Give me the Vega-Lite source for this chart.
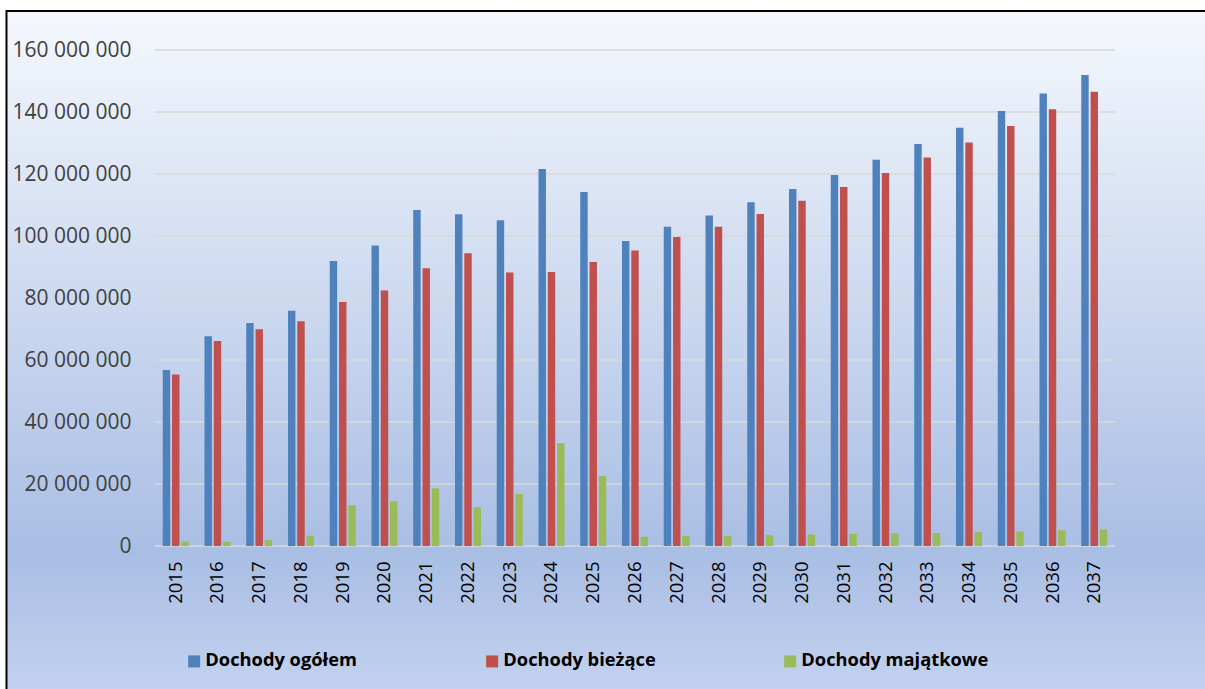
{
  "$schema": "https://vega.github.io/schema/vega-lite/v6.json",
  "autosize": "none",
  "width": 960,
  "height": 496,
  "padding": {"left": 155, "top": 50, "right": 90, "bottom": 143},
  "background": "#ffffff",
  "config": {
    "view": {"stroke": null},
    "font": "Open Sans",
    "axis": {"zindex": 2},
    "locale": {"number": {"decimal": ",", "thousands": " ", "grouping": [3], "currency": ["", " zł"]}}
  },
  "datasets": {
    "grid": [
      {"v": 0}, {"v": 20000000}, {"v": 40000000}, {"v": 60000000}, {"v": 80000000},
      {"v": 100000000}, {"v": 120000000}, {"v": 140000000}, {"v": 160000000}
    ],
    "dochody": [
      {"rok": "2015", "seria": "Dochody ogółem", "wartosc": 56800000},
      {"rok": "2015", "seria": "Dochody bieżące", "wartosc": 55300000},
      {"rok": "2015", "seria": "Dochody majątkowe", "wartosc": 1400000},
      {"rok": "2016", "seria": "Dochody ogółem", "wartosc": 67700000},
      {"rok": "2016", "seria": "Dochody bieżące", "wartosc": 66100000},
      {"rok": "2016", "seria": "Dochody majątkowe", "wartosc": 1300000},
      {"rok": "2017", "seria": "Dochody ogółem", "wartosc": 71900000},
      {"rok": "2017", "seria": "Dochody bieżące", "wartosc": 69900000},
      {"rok": "2017", "seria": "Dochody majątkowe", "wartosc": 1900000},
      {"rok": "2018", "seria": "Dochody ogółem", "wartosc": 75900000},
      {"rok": "2018", "seria": "Dochody bieżące", "wartosc": 72500000},
      {"rok": "2018", "seria": "Dochody majątkowe", "wartosc": 3300000},
      {"rok": "2019", "seria": "Dochody ogółem", "wartosc": 91900000},
      {"rok": "2019", "seria": "Dochody bieżące", "wartosc": 78700000},
      {"rok": "2019", "seria": "Dochody majątkowe", "wartosc": 13100000},
      {"rok": "2020", "seria": "Dochody ogółem", "wartosc": 96900000},
      {"rok": "2020", "seria": "Dochody bieżące", "wartosc": 82400000},
      {"rok": "2020", "seria": "Dochody majątkowe", "wartosc": 14400000},
      {"rok": "2021", "seria": "Dochody ogółem", "wartosc": 108400000},
      {"rok": "2021", "seria": "Dochody bieżące", "wartosc": 89600000},
      {"rok": "2021", "seria": "Dochody majątkowe", "wartosc": 18600000},
      {"rok": "2022", "seria": "Dochody ogółem", "wartosc": 107000000},
      {"rok": "2022", "seria": "Dochody bieżące", "wartosc": 94400000},
      {"rok": "2022", "seria": "Dochody majątkowe", "wartosc": 12500000},
      {"rok": "2023", "seria": "Dochody ogółem", "wartosc": 105100000},
      {"rok": "2023", "seria": "Dochody bieżące", "wartosc": 88200000},
      {"rok": "2023", "seria": "Dochody majątkowe", "wartosc": 16800000},
      {"rok": "2024", "seria": "Dochody ogółem", "wartosc": 121600000},
      {"rok": "2024", "seria": "Dochody bieżące", "wartosc": 88400000},
      {"rok": "2024", "seria": "Dochody majątkowe", "wartosc": 33200000},
      {"rok": "2025", "seria": "Dochody ogółem", "wartosc": 114200000},
      {"rok": "2025", "seria": "Dochody bieżące", "wartosc": 91600000},
      {"rok": "2025", "seria": "Dochody majątkowe", "wartosc": 22600000},
      {"rok": "2026", "seria": "Dochody ogółem", "wartosc": 98400000},
      {"rok": "2026", "seria": "Dochody bieżące", "wartosc": 95300000},
      {"rok": "2026", "seria": "Dochody majątkowe", "wartosc": 3000000},
      {"rok": "2027", "seria": "Dochody ogółem", "wartosc": 103000000},
      {"rok": "2027", "seria": "Dochody bieżące", "wartosc": 99700000},
      {"rok": "2027", "seria": "Dochody majątkowe", "wartosc": 3200000},
      {"rok": "2028", "seria": "Dochody ogółem", "wartosc": 106600000},
      {"rok": "2028", "seria": "Dochody bieżące", "wartosc": 103000000},
      {"rok": "2028", "seria": "Dochody majątkowe", "wartosc": 3300000},
      {"rok": "2029", "seria": "Dochody ogółem", "wartosc": 110900000},
      {"rok": "2029", "seria": "Dochody bieżące", "wartosc": 107100000},
      {"rok": "2029", "seria": "Dochody majątkowe", "wartosc": 3500000},
      {"rok": "2030", "seria": "Dochody ogółem", "wartosc": 115200000},
      {"rok": "2030", "seria": "Dochody bieżące", "wartosc": 111400000},
      {"rok": "2030", "seria": "Dochody majątkowe", "wartosc": 3700000},
      {"rok": "2031", "seria": "Dochody ogółem", "wartosc": 119700000},
      {"rok": "2031", "seria": "Dochody bieżące", "wartosc": 115800000},
      {"rok": "2031", "seria": "Dochody majątkowe", "wartosc": 3900000},
      {"rok": "2032", "seria": "Dochody ogółem", "wartosc": 124600000},
      {"rok": "2032", "seria": "Dochody bieżące", "wartosc": 120300000},
      {"rok": "2032", "seria": "Dochody majątkowe", "wartosc": 4100000},
      {"rok": "2033", "seria": "Dochody ogółem", "wartosc": 129700000},
      {"rok": "2033", "seria": "Dochody bieżące", "wartosc": 125300000},
      {"rok": "2033", "seria": "Dochody majątkowe", "wartosc": 4200000},
      {"rok": "2034", "seria": "Dochody ogółem", "wartosc": 134900000},
      {"rok": "2034", "seria": "Dochody bieżące", "wartosc": 130200000},
      {"rok": "2034", "seria": "Dochody majątkowe", "wartosc": 4500000},
      {"rok": "2035", "seria": "Dochody ogółem", "wartosc": 140300000},
      {"rok": "2035", "seria": "Dochody bieżące", "wartosc": 135500000},
      {"rok": "2035", "seria": "Dochody majątkowe", "wartosc": 4700000},
      {"rok": "2036", "seria": "Dochody ogółem", "wartosc": 146000000},
      {"rok": "2036", "seria": "Dochody bieżące", "wartosc": 140900000},
      {"rok": "2036", "seria": "Dochody majątkowe", "wartosc": 5100000},
      {"rok": "2037", "seria": "Dochody ogółem", "wartosc": 151900000},
      {"rok": "2037", "seria": "Dochody bieżące", "wartosc": 146500000},
      {"rok": "2037", "seria": "Dochody majątkowe", "wartosc": 5300000}
    ]
  },
  "resolve": {"scale": {"x": "independent", "y": "independent"}, "axis": {"x": "independent", "y": "independent"}},
  "layer": [
    {
      "data": {"values": [{}]},
      "mark": {
        "type": "rect",
        "stroke": "#000000",
        "strokeWidth": 2,
        "fill": {
          "gradient": "linear",
          "x1": 0, "y1": 0, "x2": 0, "y2": 1,
          "stops": [
            {"offset": 0, "color": "#f5f8fd"},
            {"offset": 0.775, "color": "#a9bee4"},
            {"offset": 1, "color": "#c6d4f0"}
          ]
        }
      },
      "encoding": {
        "x": {"datum": -0.1547, "type": "quantitative", "scale": {"domain": [0, 1]}, "axis": null},
        "x2": {"datum": 1.2},
        "y": {"datum": 1.0786, "type": "quantitative", "scale": {"domain": [0, 1]}, "axis": null},
        "y2": {"datum": -0.33}
      }
    },
    {
      "layer": [
        {
          "data": {"name": "grid"},
          "mark": {"type": "rule", "color": "#d9d9d9", "strokeWidth": 1.6},
          "encoding": {
            "y": {"field": "v", "type": "quantitative"}
          }
        },
        {
          "data": {"name": "dochody"},
          "mark": {"type": "bar"},
          "encoding": {
            "x": {
              "field": "rok", "type": "nominal",
              "scale": {"paddingInner": 0.377, "paddingOuter": 0.185},
              "axis": {
                "title": null, "labelAngle": -90, "labelAlign": "right", "labelBaseline": "middle",
                "labelPadding": 15, "ticks": false, "domain": false, "zindex": 2,
                "labelFont": "Open Sans", "labelFontSize": 18.5, "labelColor": "#000000"
              }
            },
            "xOffset": {
              "field": "seria", "type": "nominal",
              "sort": ["Dochody ogółem", "Dochody bieżące", "Dochody majątkowe"],
              "scale": {"paddingInner": 0.2}
            },
            "y": {
              "field": "wartosc", "type": "quantitative",
              "scale": {"domain": [0, 160000000]},
              "axis": {
                "title": null, "grid": false, "domain": false, "ticks": false, "zindex": 2,
                "values": [0, 20000000, 40000000, 60000000, 80000000, 100000000, 120000000, 140000000, 160000000],
                "format": ",d",
                "labelPadding": 24, "labelFont": "Open Sans", "labelFontSize": 21, "labelColor": "#404040"
              }
            },
            "color": {
              "field": "seria", "type": "nominal",
              "scale": {
                "domain": ["Dochody ogółem", "Dochody bieżące", "Dochody majątkowe"],
                "range": ["#4f81bd", "#c0504d", "#9bbb59"]
              },
              "legend": {
                "title": null, "orient": "none", "direction": "horizontal",
                "legendX": 30, "legendY": 602, "zindex": 2,
                "columns": 3, "gridAlign": "all", "columnPadding": 90,
                "symbolType": "square", "symbolSize": 144, "symbolStrokeWidth": 0,
                "labelOffset": 2, "labelLimit": 400,
                "labelFont": "Open Sans", "labelFontSize": 18.3, "labelFontWeight": "bold", "labelColor": "#000000"
              }
            }
          }
        }
      ]
    }
  ]
}
